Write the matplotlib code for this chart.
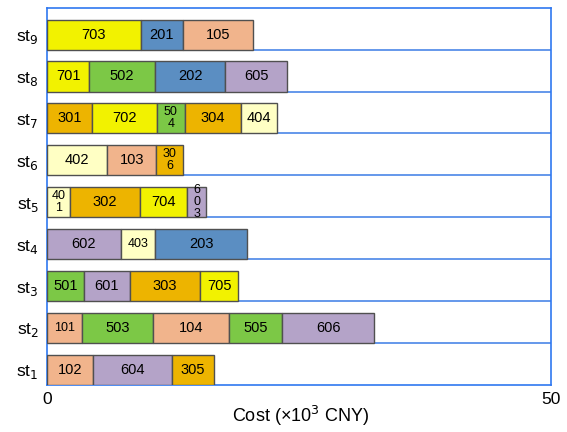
import matplotlib.pyplot as plt

plt.rcParams['font.family'] = ['Liberation Sans', 'DejaVu Sans']

# rows st1..st9, segments left to right
stations = ['st$_1$', 'st$_2$', 'st$_3$', 'st$_4$', 'st$_5$', 'st$_6$', 'st$_7$', 'st$_8$', 'st$_9$']
seg_labels = [
    ['102', '604', '305'],
    ['101', '503', '104', '505', '606'],
    ['501', '601', '303', '705'],
    ['602', '403', '203'],
    ['40\n1', '302', '704', '6\n0\n3'],
    ['402', '103', '30\n6'],
    ['301', '702', '50\n4', '304', '404'],
    ['701', '502', '202', '605'],
    ['703', '201', '105'],
]
seg_costs = [
    [4.6, 7.8, 4.2],
    [3.5, 7.0, 7.6, 5.2, 9.2],
    [3.7, 4.5, 7.0, 3.8],
    [7.3, 3.4, 9.2],
    [2.3, 6.9, 4.7, 1.9],
    [6.0, 4.8, 2.7],
    [4.5, 6.4, 2.8, 5.6, 3.5],
    [4.2, 6.5, 7.0, 6.1],
    [9.3, 4.2, 7.0],
]

# colour by first digit of the segment id
colors = {
    '1': '#F1B48C',
    '2': '#5B8EC2',
    '3': '#EDB400',
    '4': '#FFFFC4',
    '5': '#7CC846',
    '6': '#B4A3C8',
    '7': '#F2F200',
}
small = {'101': 9, '403': 9}

fig = plt.figure(figsize=(5.67, 4.32), dpi=100)
ax = fig.add_axes([0.083, 0.109, 0.888, 0.873])

bar_h = 0.72
for i, (labels, costs) in enumerate(zip(seg_labels, seg_costs)):
    left = 0
    for lab, c in zip(labels, costs):
        ax.barh(i, c, left=left, height=bar_h, align='edge',
                color=colors[lab[0]], edgecolor='#505050', linewidth=1.0, zorder=3)
        if '\n' in lab:
            fs = 9
            ls = 1.0
        else:
            fs = small.get(lab, 10.5)
            ls = 1.2
        ax.text(left + c / 2, i + bar_h / 2, lab, ha='center', va='center',
                fontsize=fs, linespacing=ls, zorder=4)
        left += c

ax.set_xlim(0, 50)
ax.set_ylim(0, 9)
ax.set_xticks([0, 50])
ax.set_yticks([i + bar_h / 2 for i in range(9)])
ax.set_yticklabels(stations, fontsize=12.5)
ax.tick_params(axis='both', length=0)
ax.tick_params(axis='x', labelsize=12.5, pad=5)
ax.tick_params(axis='y', pad=6)

for y in range(1, 9):
    ax.axhline(y, color='#4A86E8', linewidth=1.2, zorder=2)
for s in ax.spines.values():
    s.set_color('#2F78F0')
    s.set_linewidth(1.2)

fig.text(0.53, 0.038, 'Cost (×10$^3$ CNY)', ha='center', va='center', fontsize=13)

fig.savefig('out.png', dpi=100)
